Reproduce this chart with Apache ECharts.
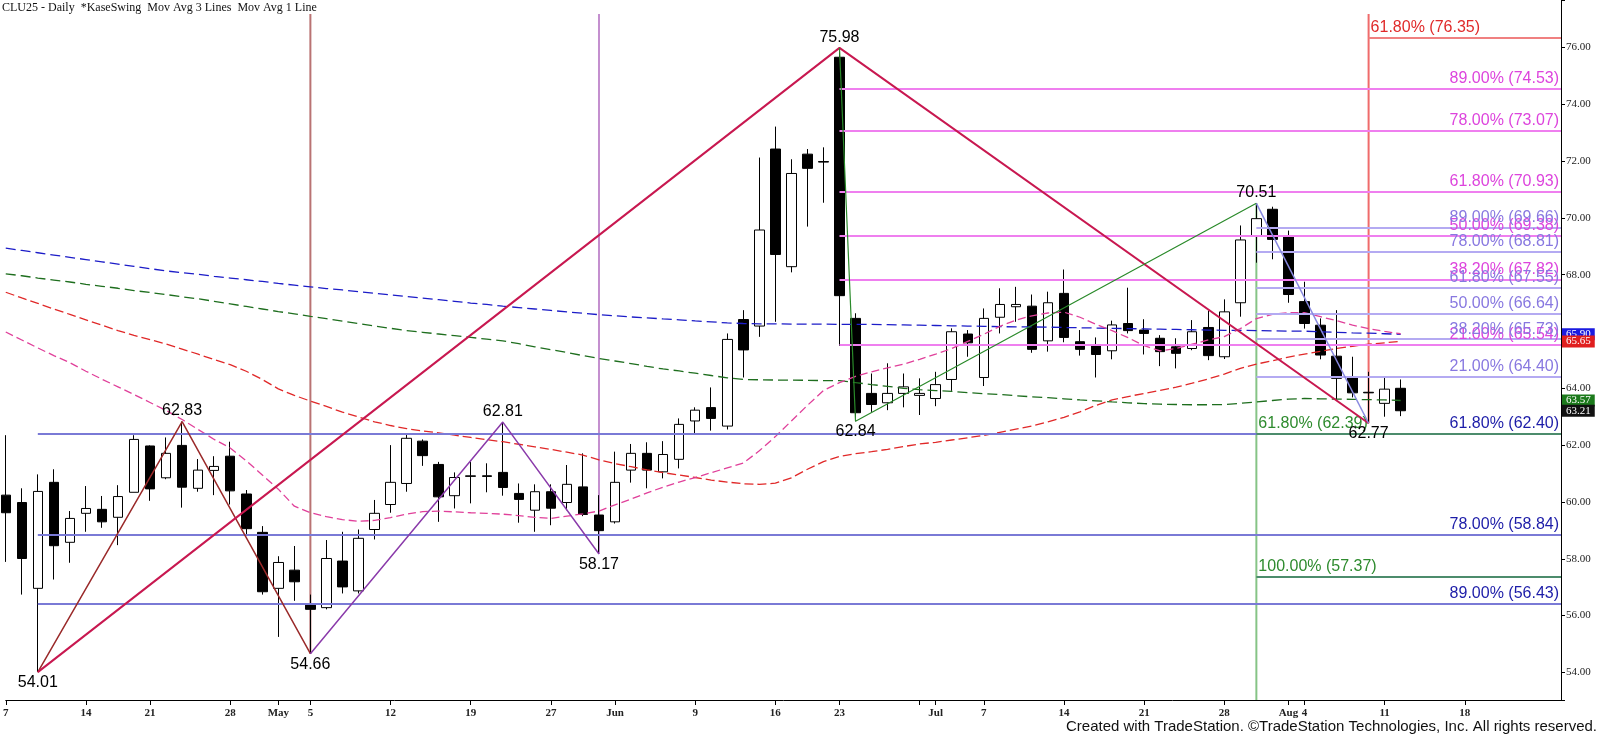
<!DOCTYPE html>
<html>
<head>
<meta charset="utf-8">
<script src="https://cdn.jsdelivr.net/npm/echarts@6.0.0/dist/echarts.min.js"></script>
<style>html,body{margin:0;padding:0;background:#fff;overflow:hidden}#c{width:1600px;height:739px}</style>
</head>
<body>
<div id="c"></div>
<script>
const categories = ['Apr 7','Apr 8','Apr 9','Apr 10','Apr 11','Apr 14','Apr 15','Apr 16','Apr 17','Apr 21','Apr 22','Apr 23','Apr 24','Apr 25','Apr 28','Apr 29','Apr 30',
'May 1','May 2','May 5','May 6','May 7','May 8','May 9','May 12','May 13','May 14','May 15','May 16','May 19','May 20','May 21','May 22','May 23','May 27','May 28','May 29','May 30',
'Jun 2','Jun 3','Jun 4','Jun 5','Jun 6','Jun 9','Jun 10','Jun 11','Jun 12','Jun 13','Jun 16','Jun 17','Jun 18','Jun 20','Jun 23','Jun 24','Jun 25','Jun 26','Jun 27','Jun 30',
'Jul 1','Jul 2','Jul 3','Jul 7','Jul 8','Jul 9','Jul 10','Jul 11','Jul 14','Jul 15','Jul 16','Jul 17','Jul 18','Jul 21','Jul 22','Jul 23','Jul 24','Jul 25','Jul 28','Jul 29','Jul 30','Jul 31',
'Aug 1','Aug 4','Aug 5','Aug 6','Aug 7','Aug 8','Aug 11','Aug 12','Aug 13','Aug 14','Aug 15','Aug 18','Aug 19','Aug 20','Aug 21','Aug 22','Aug 25','Aug 26'];

const tickLabels = {'Apr 7':'7','Apr 14':'14','Apr 21':'21','Apr 28':'28','May 1':'May','May 5':'5','May 12':'12','May 19':'19','May 27':'27',
'Jun 2':'Jun','Jun 9':'9','Jun 16':'16','Jun 23':'23','Jun 30':'','Jul 1':'Jul','Jul 7':'7','Jul 14':'14','Jul 21':'21','Jul 28':'28',
'Aug 1':'Aug','Aug 4':'4','Aug 11':'11','Aug 18':'18'};

const opens = [60.24,59.98,56.96,60.69,58.58,59.60,59.74,59.46,60.34,61.97,
60.85,61.99,60.48,61.11,61.61,60.28,58.93,56.96,57.60,56.37,
56.28,57.92,56.87,59.03,59.91,60.65,62.14,61.32,60.22,60.90,
60.92,61.04,60.30,59.71,60.36,59.98,60.53,59.54,59.30,61.12,
61.71,61.06,61.50,62.85,63.32,62.67,66.42,66.19,72.42,68.28,
72.24,71.98,75.65,66.46,63.82,63.49,63.82,63.75,63.64,64.31,
65.91,64.38,66.50,66.87,66.89,65.67,67.34,65.64,65.49,65.32,
66.28,66.05,65.76,65.46,65.40,66.14,65.11,67.01,69.36,70.30,
69.36,67.05,66.22,65.13,64.37,63.86,63.47,64.00];
const closes = [59.62,58.01,60.37,58.46,59.42,59.77,59.30,60.19,62.20,60.46,
61.71,60.52,61.12,61.25,60.39,59.06,56.84,57.87,57.19,56.22,
58.01,57.01,58.72,59.60,60.69,62.24,61.63,60.18,60.86,60.92,
60.90,60.51,60.09,60.36,59.78,60.62,59.56,58.99,60.69,61.71,
61.12,61.67,62.73,63.23,62.94,65.72,65.35,69.57,68.71,71.56,
71.74,71.96,67.26,63.14,63.43,63.82,64.05,63.82,64.13,65.99,
65.60,66.46,66.95,66.95,65.37,67.01,65.79,65.37,65.19,66.23,
66.03,65.93,65.29,65.23,65.99,65.15,66.69,69.22,69.97,69.24,
67.30,66.28,65.17,64.35,63.84,63.84,63.97,63.21];
const lows = [57.89,56.74,54.01,57.27,57.86,58.95,59.09,58.48,60.34,60.04,
60.80,59.80,60.36,60.24,59.91,58.83,56.74,55.25,56.52,54.66,
56.22,56.78,56.78,58.68,59.62,60.36,61.27,59.30,59.77,59.95,
60.34,60.22,59.27,58.95,59.18,59.71,59.50,58.17,59.24,60.68,
60.48,60.83,61.18,62.38,62.51,62.55,64.38,65.81,66.34,68.08,
69.69,70.53,65.49,62.84,63.17,63.23,63.33,63.06,63.37,63.91,
65.11,64.08,65.93,66.34,65.25,65.29,65.62,65.15,64.38,65.02,
65.93,65.19,64.78,64.70,65.34,64.99,65.03,66.52,68.42,68.54,
67.01,66.10,65.02,63.58,63.68,62.77,63.00,63.02];
const highs = [62.35,60.48,60.97,61.15,59.68,60.56,60.21,60.59,62.35,61.99,
62.27,62.83,61.51,61.61,62.12,60.42,59.15,58.09,58.45,56.74,
58.66,58.95,59.03,60.07,62.00,62.41,62.20,61.41,61.04,61.41,
61.36,62.81,60.65,60.62,60.62,61.30,61.71,60.24,61.77,62.04,
62.10,62.14,62.94,63.33,64.03,65.93,66.75,72.12,73.21,72.06,
72.42,72.48,75.98,66.64,64.52,64.88,64.52,64.35,64.58,66.11,
66.05,66.81,67.52,67.57,67.30,67.40,68.18,66.05,65.79,66.38,
67.54,66.43,65.87,65.76,66.40,66.73,67.13,69.73,70.51,70.39,
69.55,67.75,66.46,66.75,65.11,64.58,64.43,64.31];

const maBlue = [68.93,68.85,68.77,68.69,68.61,68.53,68.45,68.37,68.29,68.21,
68.13,68.07,68.01,67.94,67.88,67.82,67.76,67.69,67.63,67.57,
67.51,67.46,67.40,67.34,67.29,67.23,67.17,67.12,67.06,67.00,
66.95,66.89,66.84,66.79,66.74,66.69,66.64,66.59,66.55,66.51,
66.48,66.44,66.41,66.37,66.34,66.30,66.28,66.27,66.27,66.26,
66.26,66.26,66.25,66.25,66.25,66.24,66.23,66.22,66.21,66.20,
66.19,66.18,66.17,66.16,66.16,66.15,66.14,66.13,66.12,66.11,
66.10,66.09,66.08,66.07,66.06,66.05,66.04,66.04,66.03,66.02,
66.01,66.01,65.99,65.97,65.95,65.94,65.92,65.90];
const maGreen = [68.03,67.96,67.88,67.81,67.74,67.66,67.59,67.52,67.44,67.37,
67.30,67.22,67.15,67.06,66.97,66.88,66.79,66.70,66.62,66.53,
66.45,66.36,66.28,66.19,66.11,66.03,65.97,65.91,65.85,65.79,
65.73,65.67,65.57,65.46,65.36,65.26,65.15,65.05,64.96,64.87,
64.77,64.68,64.61,64.53,64.45,64.37,64.31,64.30,64.29,64.29,
64.28,64.27,64.27,64.20,64.13,64.07,64.00,63.95,63.92,63.89,
63.85,63.81,63.78,63.74,63.70,63.67,63.63,63.59,63.56,63.52,
63.49,63.46,63.44,63.43,63.42,63.42,63.43,63.47,63.52,63.57,
63.62,63.64,63.63,63.62,63.61,63.60,63.59,63.57];
const maRed = [67.38,67.18,66.99,66.79,66.60,66.41,66.22,66.03,65.86,65.71,
65.56,65.38,65.20,65.01,64.83,64.60,64.31,63.98,63.75,63.55,
63.36,63.16,62.99,62.82,62.69,62.58,62.50,62.43,62.35,62.27,
62.19,62.12,62.03,61.94,61.85,61.75,61.65,61.48,61.35,61.24,
61.13,61.03,60.95,60.86,60.77,60.70,60.64,60.62,60.66,60.85,
61.15,61.42,61.60,61.70,61.77,61.85,61.95,62.04,62.10,62.18,
62.26,62.34,62.45,62.56,62.67,62.82,62.98,63.17,63.40,63.59,
63.71,63.82,63.93,64.04,64.18,64.33,64.50,64.70,64.85,64.97,
65.10,65.20,65.30,65.40,65.48,65.55,65.60,65.65];
const maPink = [65.98,65.70,65.42,65.15,64.90,64.60,64.32,64.05,63.78,63.50,
63.22,62.90,62.55,62.20,61.90,61.45,60.95,60.45,59.85,59.62,
59.48,59.38,59.32,59.35,59.45,59.57,59.66,59.68,59.65,59.62,
59.60,59.57,59.52,59.46,59.42,59.50,59.58,59.68,59.90,60.10,
60.32,60.52,60.70,60.86,61.03,61.20,61.37,61.80,62.30,62.85,
63.40,63.92,64.20,64.42,64.58,64.72,64.85,65.02,65.20,65.40,
65.65,65.90,66.18,66.40,66.55,66.65,66.68,66.50,66.25,66.03,
65.78,65.50,65.32,65.40,65.55,65.70,65.82,66.10,66.45,66.60,
66.66,66.66,66.52,66.38,66.22,66.10,66.00,65.92];

const swingHighs = [['Apr 23',62.83],['May 21',62.81],['Jun 23',75.98],['Jul 30',70.51]];
const swingLows  = [['Apr 9',54.01],['May 5',54.66],['May 30',58.17],['Jun 24',62.84],['Aug 8',62.77]];

const zigBrown    = [['Apr 9',54.01],['Apr 23',62.83],['May 5',54.66]];
const zigCrimson  = [['Apr 9',54.01],['Jun 23',75.98],['Aug 8',62.77]];
const zigPurple   = [['May 5',54.66],['May 21',62.81],['May 30',58.17]];
const zigGreen    = [['Jun 23',75.98],['Jun 24',62.84],['Jul 30',70.51]];
const zigLavender = [['Jul 30',70.51],['Aug 8',62.77]];

const blueFibStart = 'Apr 9';
const blueFibPct = ['61.80%','78.00%','89.00%'];
const blueFibLevels = [62.40,58.84,56.43];
const magentaFibStart = 'Jun 23';
const magentaFibPct = ['89.00%','78.00%','61.80%','50.00%','38.20%','21.00%'];
const magentaFibLevels = [74.53,73.07,70.93,69.38,67.82,65.54];
const lavenderFibStart = 'Jul 30';
const lavenderFibPct = ['89.00%','78.00%','61.80%','50.00%','38.20%','21.00%'];
const lavenderFibLevels = [69.66,68.81,67.55,66.64,65.73,64.40];
const greenFibStart = 'Jul 30';
const greenFibPct = ['61.80%','100.00%'];
const greenFibLevels = [62.39,57.37];
const redFibStart = 'Aug 8';
const redFibPct = ['61.80%'];
const redFibLevels = [76.35];

const Y_MIN = 53.03, Y_MAX = 77.665, V_TOP = 77.17;
const vBrown  = ['May 5', V_TOP, 54.66];
const vPurple = ['May 30', V_TOP, 58.17];
const vRed    = ['Aug 8', V_TOP, 62.77];
const vGreen  = ['Jul 30', 70.51, Y_MIN];

const SANS = 'Liberation Sans, Arial, sans-serif';
const SERIF = 'Liberation Serif, Times New Roman, serif';
const idx = d => categories.indexOf(d);
const lastIdx = categories.length - 1;

function maSeries(data, color, dash) {
  return {type:'line', data, symbol:'none', silent:true, animation:false, z:3,
    lineStyle:{color, width:1.3, type:dash}};
}
function zig(points, color, width) {
  return {type:'line', data:points.map(p => [idx(p[0]), p[1]]), symbol:'none', silent:true, animation:false, z:6,
    lineStyle:{color, width}};
}
function vline(v, color) {
  return {type:'line', data:[[idx(v[0]), v[1]], [idx(v[0]), v[2]]], symbol:'none', silent:true, animation:false, z:2,
    lineStyle:{color, width:2}};
}
function fib(start, pcts, levels, lineColor, textColor, pos) {
  const s = idx(start);
  return {type:'line', data:[[s, levels[0]]], symbol:'none', silent:true, animation:false, z:4,
    lineStyle:{width:0},
    markLine:{symbol:'none', silent:true, animation:false,
      lineStyle:{color:lineColor, width:2, type:'solid'},
      label:{show:true, position:pos, distance:2, color:textColor, fontSize:16, fontFamily:SANS,
        formatter:p => pcts[p.dataIndex] + ' (' + levels[p.dataIndex].toFixed(2) + ')'},
      data:levels.map(lv => [{coord:[s, lv]}, {coord:[lastIdx, lv]}])}};
}
function swingLabels(points, pos) {
  return {type:'scatter', data:points.map(p => [idx(p[0]), p[1]]), symbolSize:1, silent:true, animation:false, z:10,
    itemStyle:{color:'#000', opacity:0.01},
    label:{show:true, position:pos, distance:2, color:'#000', opacity:1, fontSize:16, fontFamily:SANS,
      formatter:p => p.value[1].toFixed(2)}};
}

const tags = [
  {v:maBlue[maBlue.length-1], c:'#1a1ae0'},
  {v:maRed[maRed.length-1], c:'#e01e1e'},
  {v:maGreen[maGreen.length-1], c:'#1c7a1c'},
  {v:closes[closes.length-1], c:'#111111'}
];

const chart = echarts.init(document.getElementById('c'));
chart.setOption({
  animation:false,
  backgroundColor:'#fff',
  grid:{left:2, right:39, top:0, bottom:39, containLabel:false},
  xAxis:{type:'category', data:categories, boundaryGap:false,
    axisLine:{lineStyle:{color:'#000', width:1}},
    axisTick:{interval:(i, v) => v in tickLabels, length:5, lineStyle:{color:'#000'}},
    axisLabel:{interval:(i, v) => v in tickLabels, formatter:v => tickLabels[v] || '', margin:8,
      fontSize:11, fontFamily:SERIF, fontWeight:'bold', color:'#222'},
    splitLine:{show:false}},
  yAxis:{type:'value', position:'right', min:Y_MIN, max:Y_MAX, splitNumber:12, minInterval:2, maxInterval:2, scale:true,
    axisLine:{show:true, lineStyle:{color:'#000'}},
    axisTick:{show:true, length:4, lineStyle:{color:'#000'}},
    axisLabel:{margin:5, fontSize:11, fontFamily:SERIF, color:'#222',
      formatter:v => { const r = Math.round(v); if (Math.abs(v - r) > 1e-6 || r % 2 !== 0 || r === 66) return ''; return v.toFixed(2); }},
    splitLine:{show:false}},
  graphic:[
    {type:'text', left:2, top:2, style:{text:'CLU25 - Daily  *KaseSwing  Mov Avg 3 Lines  Mov Avg 1 Line', font:'12px ' + SERIF, fill:'#111'}},
    {type:'text', right:3, top:719, style:{text:'Created with TradeStation. \u00A9TradeStation Technologies, Inc. All rights reserved.', font:'15px ' + SANS, fill:'#111'}}
  ],
  series:[
    vline(vBrown, '#b97373'),
    vline(vPurple, '#c48fcf'),
    vline(vRed, '#ef6b6b'),
    vline(vGreen, '#86c486'),
    {type:'candlestick', data:opens.map((o, i) => [o, closes[i], lows[i], highs[i]]), barWidth:10, silent:true, animation:false, z:2,
      itemStyle:{color:'#ffffff', color0:'#000000', borderColor:'#000000', borderColor0:'#000000', borderWidth:1}},
    maSeries(maBlue, '#1c1cc8', [10, 5]),
    maSeries(maGreen, '#1e6e1e', [10, 5]),
    maSeries(maRed, '#e02828', [9, 4]),
    maSeries(maPink, '#e0409a', [8, 4]),
    fib(blueFibStart, blueFibPct, blueFibLevels, '#7a7ad6', '#1c1ca8', 'insideEndTop'),
    fib(magentaFibStart, magentaFibPct, magentaFibLevels, '#ef7fef', '#dd44dd', 'insideEndTop'),
    fib(lavenderFibStart, lavenderFibPct, lavenderFibLevels, '#b4aaf2', '#8878e0', 'insideEndTop'),
    fib(greenFibStart, greenFibPct, greenFibLevels, '#4c8c6c', '#2e8b2e', 'insideStartTop'),
    fib(redFibStart, redFibPct, redFibLevels, '#f08080', '#e02a2a', 'insideStartTop'),
    zig(zigBrown, '#9a2a2a', 1.5),
    zig(zigPurple, '#8a3aaa', 1.5),
    zig(zigCrimson, '#c81850', 2),
    zig(zigGreen, '#2a8a2a', 1.2),
    zig(zigLavender, '#8888e0', 1.5),
    swingLabels(swingHighs, 'top'),
    swingLabels(swingLows, 'bottom'),
    {type:'line', data:[[lastIdx, tags[0].v]], symbol:'none', silent:true, animation:false, clip:false, z:12, lineStyle:{width:0},
      markLine:{symbol:'none', silent:true, animation:false, lineStyle:{color:'rgba(0,0,0,0)', width:0},
        label:{show:true, position:'end', distance:1, color:'#fff', fontSize:11, fontFamily:SERIF, padding:[1,4,0,4], lineHeight:11},
        data:tags.map(t => ({yAxis:t.v, label:{show:true, backgroundColor:t.c, formatter:t.v.toFixed(2)}}))}}
  ]
});
</script>
</body>
</html>
